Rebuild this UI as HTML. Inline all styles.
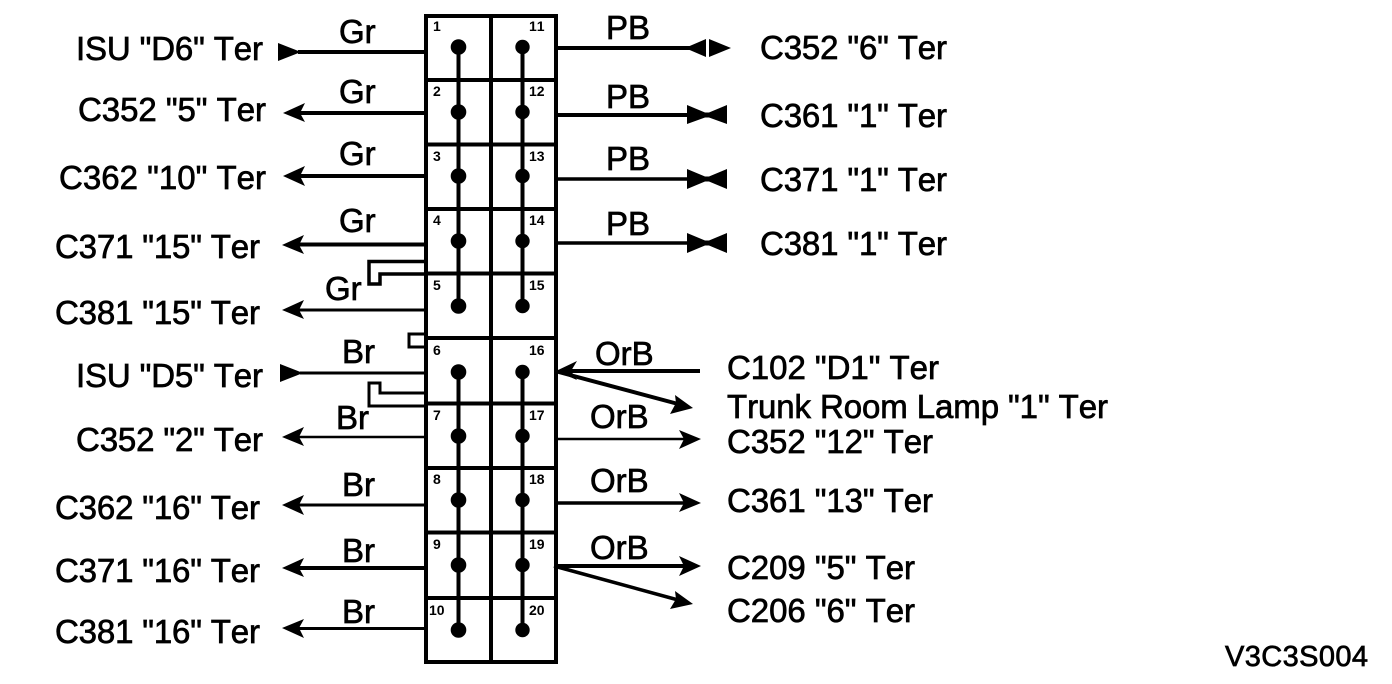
<!DOCTYPE html>
<html><head><meta charset="utf-8"><style>
html,body{margin:0;padding:0;background:#fff}
svg{display:block}
text{font-family:"Liberation Sans",sans-serif;fill:#000;font-kerning:none}
.t{font-size:33px;stroke:#000;stroke-width:.7px;word-spacing:0}
.n{font-size:14px;font-weight:bold}
line,path.w{stroke:#000;fill:none}
</style></head><body>
<svg width="1392" height="684" viewBox="0 0 1392 684" xmlns="http://www.w3.org/2000/svg">
<!-- box -->
<g stroke-width="4">
<rect x="426" y="16" width="130" height="646" fill="none" stroke="#000" stroke-width="4"/>
<line x1="491" y1="16" x2="491" y2="662"/>
<line x1="426" y1="80" x2="556" y2="80"/>
<line x1="426" y1="144.500" x2="556" y2="144.500"/>
<line x1="426" y1="209" x2="556" y2="209"/>
<line x1="426" y1="273.500" x2="556" y2="273.500"/>
<line x1="426" y1="338" x2="556" y2="338"/>
<line x1="426" y1="403.500" x2="556" y2="403.500"/>
<line x1="426" y1="468" x2="556" y2="468"/>
<line x1="426" y1="532.500" x2="556" y2="532.500"/>
<line x1="426" y1="598" x2="556" y2="598"/>
<line x1="458.500" y1="47" x2="458.500" y2="306"/>
<line x1="522.500" y1="47" x2="522.500" y2="306"/>
<line x1="458.500" y1="372" x2="458.500" y2="630"/>
<line x1="522.500" y1="372" x2="522.500" y2="630"/>
</g>
<g>
<circle cx="458.500" cy="47" r="7.800"/><circle cx="458.500" cy="112" r="7.800"/><circle cx="458.500" cy="176" r="7.800"/><circle cx="458.500" cy="241" r="7.800"/><circle cx="458.500" cy="306" r="7.800"/>
<circle cx="458.500" cy="372" r="7.800"/><circle cx="458.500" cy="436" r="7.800"/><circle cx="458.500" cy="500" r="7.800"/><circle cx="458.500" cy="565" r="7.800"/><circle cx="458.500" cy="630" r="7.800"/>
<circle cx="522.500" cy="47" r="7.200"/><circle cx="522.500" cy="112" r="7.200"/><circle cx="522.500" cy="176" r="7.200"/><circle cx="522.500" cy="241" r="7.200"/><circle cx="522.500" cy="306" r="7.200"/>
<circle cx="522.500" cy="372" r="7.200"/><circle cx="522.500" cy="436" r="7.200"/><circle cx="522.500" cy="500" r="7.200"/><circle cx="522.500" cy="565" r="7.200"/><circle cx="522.500" cy="630" r="7.200"/>
</g>
<!-- pin numbers -->
<g class="n">
<text class="n" x="433" y="31">1</text><text class="n" x="433" y="96">2</text><text class="n" x="433" y="161">3</text><text class="n" x="433" y="225">4</text><text class="n" x="433" y="290">5</text>
<text class="n" x="433" y="355">6</text><text class="n" x="433" y="420">7</text><text class="n" x="433" y="484">8</text><text class="n" x="433" y="549">9</text><text class="n" x="429" y="615">10</text>
<text class="n" x="529" y="31">11</text><text class="n" x="529" y="96">12</text><text class="n" x="529" y="161">13</text><text class="n" x="529" y="225">14</text><text class="n" x="529" y="290">15</text>
<text class="n" x="529" y="355">16</text><text class="n" x="529" y="420">17</text><text class="n" x="529" y="484">18</text><text class="n" x="529" y="549">19</text><text class="n" x="529" y="615">20</text>
</g>
<!-- left wires -->
<line x1="298" y1="52" x2="426" y2="52" stroke-width="4"/>
<line x1="295" y1="113" x2="426" y2="113" stroke-width="4"/>
<line x1="295" y1="176" x2="426" y2="176" stroke-width="4"/>
<line x1="295" y1="244.500" x2="426" y2="244.500" stroke-width="4"/>
<line x1="295" y1="310" x2="426" y2="310" stroke-width="3"/>
<line x1="300" y1="373" x2="426" y2="373" stroke-width="3"/>
<line x1="295" y1="437" x2="426" y2="437" stroke-width="2.500"/>
<line x1="295" y1="505" x2="426" y2="505" stroke-width="3"/>
<line x1="295" y1="568" x2="426" y2="568" stroke-width="4"/>
<line x1="295" y1="628.500" x2="426" y2="628.500" stroke-width="3"/>
<polygon points="278,43 301,52 278,61"/>
<polygon points="280,364 303,373 280,382"/>
<polygon points="283,113 305,103 300,113 305,122"/>
<polygon points="283,176 305,166 300,176 305,186"/>
<polygon points="282,245 304,235 299,245 304,254"/>
<polygon points="282,310 304,300 299,310 304,319"/>
<polygon points="282,437 304,427 299,437 304,446"/>
<polygon points="282,505 304,495 299,505 304,515"/>
<polygon points="282,568 304,558 299,568 304,577"/>
<polygon points="282,628 304,619 299,628 304,638"/>
<!-- brackets -->
<path class="w" stroke-width="3.500" d="M426 261.500H369V284H380V274H426"/>
<path class="w" stroke-width="3" d="M426 334H409V347H426"/>
<path class="w" stroke-width="3" d="M426 393H380V383H369V406H426"/>
<!-- right wires -->
<line x1="556" y1="48" x2="690" y2="48" stroke-width="4"/>
<line x1="556" y1="115" x2="690" y2="115" stroke-width="4"/>
<line x1="556" y1="179" x2="690" y2="179" stroke-width="3.500"/>
<line x1="556" y1="243" x2="690" y2="243" stroke-width="3.500"/>
<polygon points="685,48 706,39 706,57"/>
<polygon points="709,39 731,48 709,57"/>
<polygon points="687,105 705,112.500 709,112.500 727,105 727,124 709,117.500 705,117.500 687,124"/>
<polygon points="687,169 705,176.500 709,176.500 727,169 727,189 709,181.500 705,181.500 687,189"/>
<polygon points="687,233 705,240.500 709,240.500 727,233 727,253 709,245.500 705,245.500 687,253"/>
<line x1="570" y1="371" x2="700" y2="371" stroke-width="4"/>
<polygon points="556,371 577,361 571,371 577,380"/>
<line x1="555" y1="371" x2="680" y2="404.500" stroke-width="4"/>
<polygon points="693,408 670,414 676,403 675,395"/>
<line x1="556" y1="439" x2="690" y2="439" stroke-width="2.500"/>
<polygon points="701,439 679,430 684,439 679,449"/>
<line x1="556" y1="503" x2="690" y2="503" stroke-width="3.500"/>
<polygon points="701,503 679,493 684,503 679,512"/>
<line x1="554" y1="566" x2="690" y2="566" stroke-width="4"/>
<polygon points="701,566 679,556 684,566 679,576"/>
<line x1="554" y1="566" x2="680" y2="600.500" stroke-width="3.500"/>
<polygon points="693,604 670,609 676,599 675,591"/>
<!-- wire labels -->
<text class="t" x="339" y="43">Gr</text>
<text class="t" x="339" y="103">Gr</text>
<text class="t" x="339" y="165">Gr</text>
<text class="t" x="339" y="232">Gr</text>
<text class="t" x="325" y="300">Gr</text>
<text class="t" x="342" y="363">Br</text>
<text class="t" x="336" y="429">Br</text>
<text class="t" x="342" y="496">Br</text>
<text class="t" x="342" y="562">Br</text>
<text class="t" x="342" y="623">Br</text>
<text class="t" x="606" y="39">PB</text>
<text class="t" x="606" y="108">PB</text>
<text class="t" x="606" y="170">PB</text>
<text class="t" x="606" y="235">PB</text>
<text class="t" x="595" y="365">OrB</text>
<text class="t" x="590" y="428">OrB</text>
<text class="t" x="590" y="492">OrB</text>
<text class="t" x="590" y="559">OrB</text>
<!-- left terminals -->
<text class="t" x="76" y="60" textLength="187">ISU "D6" Ter</text>
<text class="t" x="78" y="121" textLength="188">C352 "5" Ter</text>
<text class="t" x="59" y="189" textLength="207">C362 "10" Ter</text>
<text class="t" x="55" y="258" textLength="205">C371 "15" Ter</text>
<text class="t" x="55" y="324" textLength="205">C381 "15" Ter</text>
<text class="t" x="76" y="387" textLength="187">ISU "D5" Ter</text>
<text class="t" x="76" y="451" textLength="187">C352 "2" Ter</text>
<text class="t" x="55" y="519" textLength="205">C362 "16" Ter</text>
<text class="t" x="55" y="582" textLength="205">C371 "16" Ter</text>
<text class="t" x="55" y="643" textLength="205">C381 "16" Ter</text>
<!-- right terminals -->
<text class="t" x="760" y="59" textLength="187">C352 "6" Ter</text>
<text class="t" x="760" y="127" textLength="187">C361 "1" Ter</text>
<text class="t" x="760" y="191" textLength="187">C371 "1" Ter</text>
<text class="t" x="760" y="255" textLength="187">C381 "1" Ter</text>
<text class="t" x="727" y="379" textLength="212">C102 "D1" Ter</text>
<text class="t" x="727" y="418" textLength="381">Trunk Room Lamp "1" Ter</text>
<text class="t" x="727" y="453" textLength="206">C352 "12" Ter</text>
<text class="t" x="727" y="512" textLength="206">C361 "13" Ter</text>
<text class="t" x="727" y="579" textLength="188">C209 "5" Ter</text>
<text class="t" x="727" y="622" textLength="188">C206 "6" Ter</text>
<text class="t" x="1225" y="666" textLength="143" style="font-size:29px">V3C3S004</text>
</svg>
</body></html>
